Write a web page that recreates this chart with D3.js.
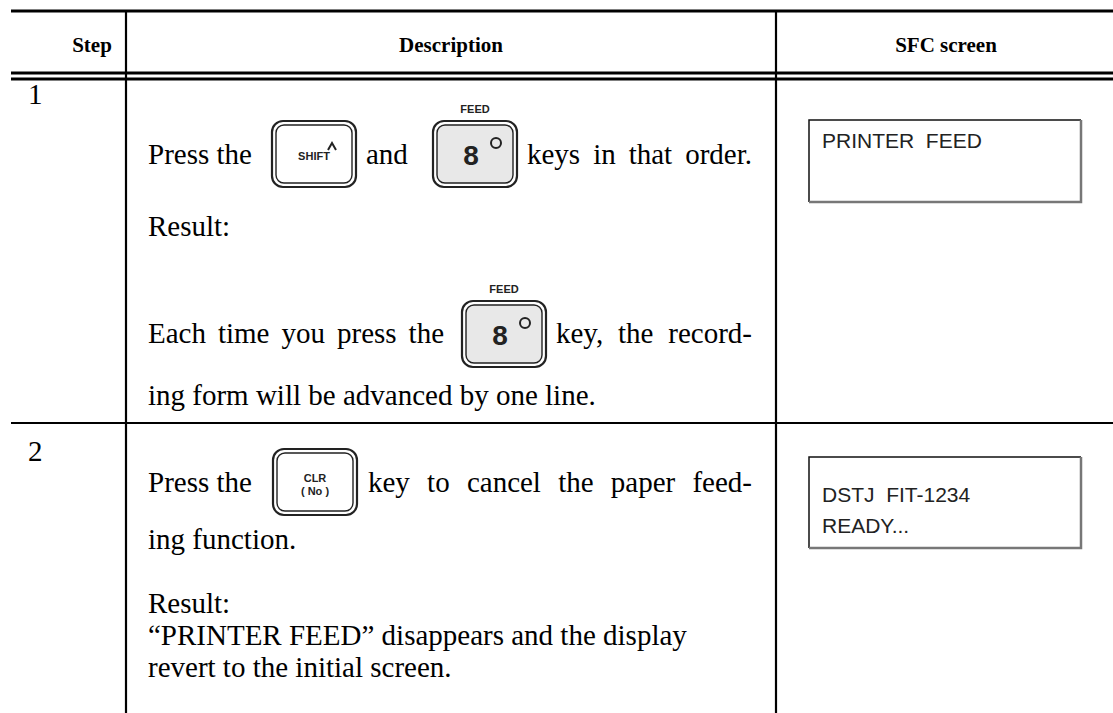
<!DOCTYPE html>
<html><head><meta charset="utf-8">
<script src="https://cdn.jsdelivr.net/npm/d3@7"></script>
<style>html,body{margin:0;padding:0;background:#fff;}svg{display:block;}</style>
</head><body>
<script>
// ---------- data ----------
const headers = ["Step", "Description", "SFC screen"];
const steps = ["1", "2"];
const keyDefs = {
  shift: {top: "", lines: ["SHIFT"], caret: true, fill: "white", big: false},
  eight: {top: "FEED", lines: ["8"], degree: true, fill: "#e8e8e8", big: true},
  clr:   {top: "", lines: ["CLR", "( No )"], fill: "white", big: false}
};
const descRow1 = [
  ["Press the", {key: "shift"}, "and", {key: "eight"}, "keys in that order."],
  ["Result:"],
  ["Each time you press the", {key: "eight"}, "key, the record-"],
  ["ing form will be advanced by one line."]
];
const descRow2 = [
  ["Press the", {key: "clr"}, "key to cancel the paper feed-"],
  ["ing function."],
  ["Result:"],
  ["\u201CPRINTER FEED\u201D disappears and the display"],
  ["revert to the initial screen."]
];
const screenRow1 = ["PRINTER  FEED"];
const screenRow2 = ["DSTJ  FIT-1234", "READY..."];

// ---------- layout ----------
const W = 1113, H = 713;
const svg = d3.select("body").append("svg").attr("width", W).attr("height", H);
const serif = "'Liberation Serif','Times New Roman',serif";
const sans = "'Liberation Sans',Arial,sans-serif";
const bodySize = 29;

const colX = [11, 126, 776, 1113];
const ruleY = {top: 11, head1: 73, head2: 79, row: 423};

const g = svg.append("g").attr("stroke", "#000").attr("fill", "none");
g.append("line").attr("x1", colX[0]).attr("x2", W).attr("y1", ruleY.top).attr("y2", ruleY.top).attr("stroke-width", 3);
g.append("line").attr("x1", colX[0]).attr("x2", W).attr("y1", ruleY.head1).attr("y2", ruleY.head1).attr("stroke-width", 3);
g.append("line").attr("x1", colX[0]).attr("x2", W).attr("y1", ruleY.head2).attr("y2", ruleY.head2).attr("stroke-width", 3);
g.append("line").attr("x1", colX[0]).attr("x2", W).attr("y1", ruleY.row).attr("y2", ruleY.row).attr("stroke-width", 2.2);
[colX[1], colX[2]].forEach(x => {
  g.append("line").attr("x1", x).attr("x2", x).attr("y1", ruleY.top).attr("y2", H).attr("stroke-width", 2.2);
});

const headCx = [92, 451, 946];
svg.selectAll("text.head").data(headers).join("text").attr("class", "head")
  .attr("x", (d, i) => headCx[i]).attr("y", 52)
  .attr("text-anchor", "middle").attr("font-family", serif).attr("font-weight", "bold")
  .attr("font-size", 21).text(d => d);

const stepY = [104, 461];
svg.selectAll("text.step").data(steps).join("text").attr("class", "step")
  .attr("x", 28).attr("y", (d, i) => stepY[i])
  .attr("font-family", serif).attr("font-size", bodySize).text(d => d);

function drawKey(x, y, def) {
  const kw = 84, kh = 66;
  const kg = svg.append("g").attr("transform", `translate(${x},${y})`);
  kg.append("rect").attr("x", 0).attr("y", 0).attr("width", kw).attr("height", kh)
    .attr("rx", 11).attr("fill", "white").attr("stroke", "#222").attr("stroke-width", 2.2);
  kg.append("rect").attr("x", 4).attr("y", 4).attr("width", kw - 8).attr("height", kh - 8)
    .attr("rx", 8).attr("fill", def.fill).attr("stroke", "#222").attr("stroke-width", 1.4);
  if (def.top) {
    kg.append("text").attr("x", kw / 2).attr("y", -8).attr("text-anchor", "middle")
      .attr("font-family", sans).attr("font-weight", "bold").attr("font-size", 11)
      .attr("fill", "#222").text(def.top);
  }
  if (def.big) {
    kg.append("text").attr("x", kw / 2 - 4).attr("y", 44).attr("text-anchor", "middle")
      .attr("font-family", sans).attr("font-weight", "bold").attr("font-size", 28)
      .attr("fill", "#222").text(def.lines[0]);
    kg.append("circle").attr("cx", kw / 2 + 21).attr("cy", 22).attr("r", 5)
      .attr("fill", "none").attr("stroke", "#222").attr("stroke-width", 2);
  } else if (def.lines.length === 1) {
    kg.append("text").attr("x", kw / 2).attr("y", 39).attr("text-anchor", "middle")
      .attr("font-family", sans).attr("font-weight", "bold").attr("font-size", 11)
      .attr("fill", "#222").text(def.lines[0]);
    if (def.caret) {
      kg.append("path").attr("d", `M${kw / 2 + 14},${29} L${kw / 2 + 18},${22} L${kw / 2 + 22},${29}`)
        .attr("fill", "none").attr("stroke", "#222").attr("stroke-width", 2);
    }
  } else {
    def.lines.forEach((t, i) => {
      kg.append("text").attr("x", kw / 2).attr("y", 33 + i * 13).attr("text-anchor", "middle")
        .attr("font-family", sans).attr("font-weight", "bold").attr("font-size", 11)
        .attr("fill", "#222").text(t);
    });
  }
}

const rowLayout1 = [
  {y: 164, keyTop: 121, xs: [148, 272, 366, 433, 527], ends: [null, null, null, null, 752]},
  {y: 236, xs: [148]},
  {y: 343, keyTop: 301, xs: [148, 462, 556], ends: [444, null, 752]},
  {y: 405, xs: [148]}
];
const rowLayout2 = [
  {y: 492, keyTop: 449, xs: [148, 273, 368], ends: [null, null, 752]},
  {y: 549, xs: [148]},
  {y: 613, xs: [148]},
  {y: 645, xs: [148]},
  {y: 677, xs: [148]}
];

function drawDesc(lines, layout) {
  lines.forEach((segs, li) => {
    const L = layout[li];
    segs.forEach((s, si) => {
      const x = L.xs[si];
      if (typeof s === "string") {
        const t = svg.append("text").attr("x", x).attr("y", L.y)
          .attr("font-family", serif).attr("font-size", bodySize).attr("fill", "#000").text(s);
        const e = L.ends && L.ends[si];
        if (e) {
          const nat = t.node().getComputedTextLength();
          const spaces = (s.match(/ /g) || []).length;
          if (spaces > 0) t.attr("word-spacing", (e - x - nat) / spaces);
        }
      } else {
        drawKey(x, L.keyTop, keyDefs[s.key]);
      }
    });
  });
}
drawDesc(descRow1, rowLayout1);
drawDesc(descRow2, rowLayout2);

function drawScreen(x, y, w, h, lines, firstBase, lead) {
  const sg = svg.append("g").attr("transform", `translate(${x},${y})`);
  sg.append("rect").attr("width", w).attr("height", h).attr("fill", "white");
  sg.append("path").attr("d", `M0,${h} L0,0 L${w},0`).attr("fill", "none")
    .attr("stroke", "#111").attr("stroke-width", 1.5);
  sg.append("path").attr("d", `M${w},0 L${w},${h} L0,${h}`).attr("fill", "none")
    .attr("stroke", "#777").attr("stroke-width", 2.5);
  lines.forEach((t, i) => {
    sg.append("text").attr("x", 13).attr("y", firstBase + i * lead).attr("font-family", sans)
      .attr("font-size", 21).attr("fill", "#222")
      .style("white-space", "pre").text(t);
  });
}
drawScreen(809, 120, 272, 82, screenRow1, 28, 31);
drawScreen(809, 457, 272, 91, screenRow2, 45, 31);
</script>
</body></html>
